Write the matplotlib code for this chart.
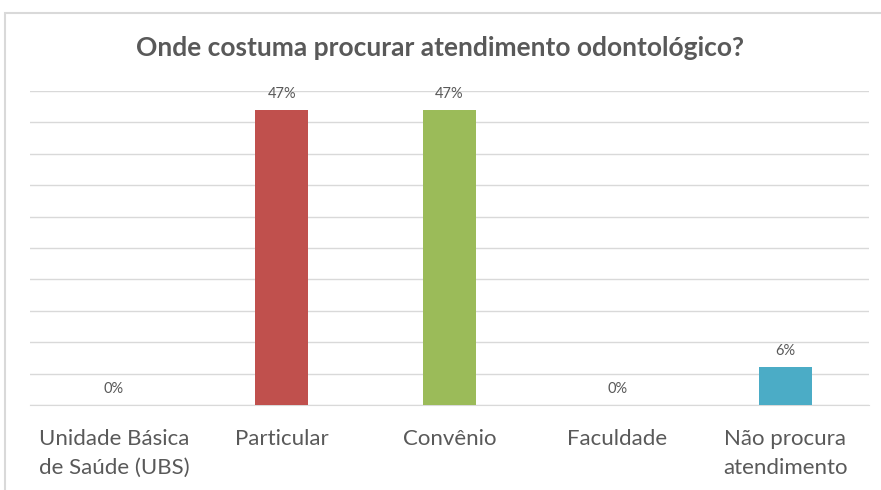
import matplotlib
matplotlib.use("Agg")
import matplotlib.pyplot as plt
from matplotlib.patches import Rectangle

# --- DATA ---
categories = ["Unidade Básica\nde Saúde (UBS)", "Particular", "Convênio",
              "Faculdade", "Não procura\natendimento"]
values = [0, 47, 47, 0, 6]
value_labels = ["0%", "47%", "47%", "0%", "6%"]
colors = ["#4F81BD", "#C0504D", "#9BBB59", "#8064A2", "#4BACC6"]

plt.rcParams['font.family'] = ['Lato', 'DejaVu Sans']

fig = plt.figure(figsize=(8.81, 4.9), dpi=100)
ax = fig.add_axes([30 / 881, 85 / 490, 839 / 881, 314 / 490])

# chart frame
fig.patches.append(Rectangle((5 / 881, -0.05), 1.0, 1 - 13 / 490 + 0.05,
                             transform=fig.transFigure, fill=False,
                             edgecolor="#d9d9d9", linewidth=1.5))

x = range(len(categories))
ax.bar(x, values, width=0.315, color=colors, zorder=3)

for xi, v, lab in zip(x, values, value_labels):
    ax.annotate(lab, (xi, v), xytext=(0, 11.5), textcoords="offset points",
                ha="center", va="center", fontsize=10.5, color="#595959")

ax.set_xlim(-0.5, len(categories) - 0.5)
ax.set_ylim(0, 50)
ax.set_yticks(range(0, 51, 5))
ax.yaxis.grid(True, color="#d9d9d9", linewidth=1, zorder=0)
ax.tick_params(axis="y", left=False, labelleft=False)
ax.tick_params(axis="x", bottom=False, pad=13.5, labelsize=16, labelcolor="#595959")
ax.set_xticks(list(x))
ax.set_xticklabels(categories, linespacing=1.6)
for s in ["top", "right", "left"]:
    ax.spines[s].set_visible(False)
ax.spines["bottom"].set_color("#d9d9d9")

fig.text(0.5, 1 - 48 / 490, "Onde costuma procurar atendimento odontológico?",
         ha="center", va="center", fontsize=19, fontweight="bold", color="#595959")

fig.savefig("out.png", dpi=100)
